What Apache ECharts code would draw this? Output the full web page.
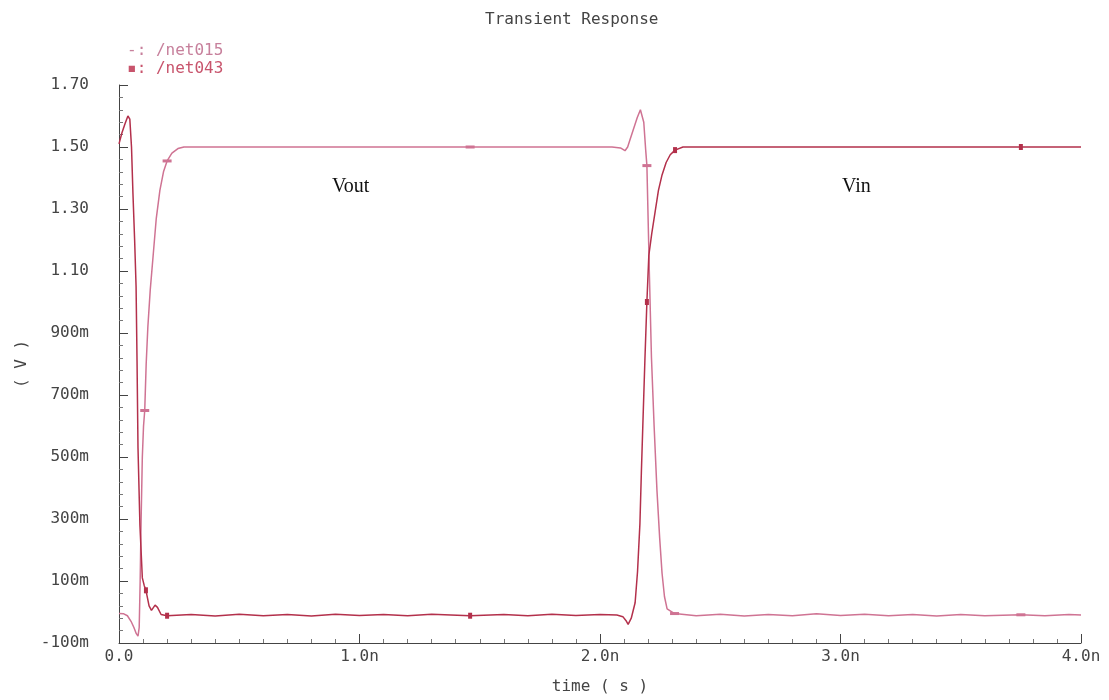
<!DOCTYPE html>
<html>
<head>
<meta charset="utf-8">
<title>Transient Response</title>
<script src="https://cdn.jsdelivr.net/npm/echarts@6/dist/echarts.min.js"></script>
<style>
    html, body { margin: 0; padding: 0; background: #fff; }
    #chart { width: 1109px; height: 700px; }
</style>
</head>
<body>
<div id="chart"></div>
<script>
// time in ns, voltage in V
const net015T = [0, 0.02, 0.035, 0.05, 0.062, 0.072, 0.079, 0.084, 0.088, 0.092,
    0.097, 0.102, 0.107, 0.113, 0.12, 0.13, 0.142, 0.155, 0.17, 0.185,
    0.2, 0.22, 0.245, 0.27, 0.5, 0.8, 1.1, 1.46, 1.8, 2.05,
    2.085, 2.104, 2.115, 2.125, 2.14, 2.155, 2.168, 2.175, 2.182, 2.19,
    2.195, 2.205, 2.214, 2.225, 2.237, 2.248, 2.258, 2.268, 2.279, 2.31,
    2.4, 2.5, 2.6, 2.7, 2.8, 2.9, 3.0, 3.1, 3.2, 3.3,
    3.4, 3.5, 3.6, 3.75, 3.85, 3.95, 4.0];
const net015V = [-0.005, -0.006, -0.012, -0.03, -0.05, -0.07, -0.078, -0.05, 0.1, 0.3,
    0.5, 0.6, 0.65, 0.8, 0.92, 1.04, 1.15, 1.27, 1.36, 1.42,
    1.455, 1.48, 1.495, 1.5, 1.5, 1.5, 1.5, 1.5, 1.5, 1.5,
    1.497, 1.488, 1.5, 1.524, 1.56, 1.595, 1.62, 1.626, 1.58, 1.49,
    1.44, 1.1, 0.82, 0.6, 0.39, 0.24, 0.125, 0.05, 0.01, -0.005,
    -0.012, -0.007, -0.013, -0.008, -0.012, -0.006, -0.011, -0.007, -0.012, -0.008,
    -0.013, -0.008, -0.012, -0.009, -0.012, -0.008, -0.01];
const net015Marks = [0.107, 0.2, 1.46, 2.195, 2.31, 3.75];

const net043T = [0, 0.012, 0.025, 0.037, 0.045, 0.052, 0.058, 0.065, 0.071, 0.075,
    0.079, 0.087, 0.097, 0.105, 0.112, 0.125, 0.135, 0.15, 0.16, 0.175,
    0.2, 0.3, 0.4, 0.5, 0.6, 0.7, 0.8, 0.9, 1.0, 1.1,
    1.2, 1.3, 1.46, 1.6, 1.7, 1.8, 1.9, 2.0, 2.07, 2.095,
    2.11, 2.117, 2.13, 2.146, 2.156, 2.166, 2.172, 2.178, 2.187, 2.195,
    2.203, 2.215, 2.229, 2.243, 2.258, 2.275, 2.292, 2.312, 2.345, 2.6,
    3.0, 3.4, 3.75, 4.0];
const net043V = [1.51, 1.545, 1.575, 1.6, 1.59, 1.5, 1.35, 1.2, 1.05, 0.81,
    0.53, 0.28, 0.11, 0.085, 0.07, 0.02, 0.005, 0.022, 0.015, -0.008,
    -0.012, -0.008, -0.013, -0.007, -0.012, -0.008, -0.013, -0.007, -0.011, -0.008,
    -0.012, -0.007, -0.012, -0.008, -0.012, -0.007, -0.011, -0.008, -0.01, -0.015,
    -0.03, -0.04, -0.02, 0.03, 0.13, 0.285, 0.45, 0.6, 0.82, 1.0,
    1.15, 1.22, 1.29, 1.36, 1.41, 1.45, 1.475, 1.49, 1.5, 1.5,
    1.5, 1.5, 1.5, 1.5];
const net043Marks = [0.112, 0.2, 1.46, 2.195, 2.312, 3.75];

const FONT = "DejaVu Sans Mono";
const C015 = "#cf7393";
const C043 = "#b3304b";

// build [t, v] points, putting a marker on the listed times
const buildData = (ts, vs, marks, sym, size) =>
    ts.map((t, i) => marks.includes(t)
        ? { value: [t, vs[i]], symbol: sym, symbolSize: size }
        : { value: [t, vs[i]], symbol: "none" });

const fmtVolt = (v) => {
    const r = Math.round(v * 1000);
    if (Math.abs(r) >= 1000) return (r / 1000).toFixed(2);
    return r + "m";
};

const chart = echarts.init(document.getElementById("chart"));
chart.setOption({
    animation: false,
    backgroundColor: "#fff",
    title: {
        text: "Transient Response",
        left: 480,
        top: 7,
        textStyle: { fontFamily: FONT, fontSize: 16, fontWeight: "normal", color: "#444" }
    },
    legend: {
        orient: "vertical",
        left: 116,
        top: 38,
        itemGap: 2,
        itemWidth: 1,
        itemHeight: 1,
        icon: "none",
        selectedMode: false,
        formatter: (name) => (name === "/net015" ? "-" : "\u25AA") + ": " + name,
        textStyle: { fontFamily: FONT, fontSize: 16 },
        data: [
            { name: "/net015", textStyle: { color: "#c7809c" } },
            { name: "/net043", textStyle: { color: "#c8546c" } }
        ]
    },
    grid: { left: 119, right: 28, top: 85, bottom: 52 },
    xAxis: {
        type: "value",
        min: 0,
        max: 4,
        interval: 1,
        name: "time ( s )",
        nameLocation: "middle",
        nameGap: 36,
        nameTextStyle: { fontFamily: FONT, fontSize: 16, color: "#444" },
        axisLine: { onZero: false, lineStyle: { color: "#444", width: 1 } },
        axisTick: { inside: true, length: 9, lineStyle: { color: "#444" } },
        minorTick: { show: true, splitNumber: 10, length: 4, lineStyle: { color: "#777" } },
        axisLabel: {
            margin: 6,
            fontFamily: FONT,
            fontSize: 16,
            color: "#444",
            formatter: (v) => (v === 0 ? "0.0" : v.toFixed(1) + "n")
        },
        splitLine: { show: false }
    },
    yAxis: {
        type: "value",
        min: -0.1,
        max: 1.7,
        interval: 0.2,
        name: "( V )",
        nameLocation: "middle",
        nameRotate: 90,
        nameGap: 84,
        nameTextStyle: { fontFamily: FONT, fontSize: 16, color: "#444" },
        axisLine: { show: true, onZero: false, lineStyle: { color: "#444", width: 1 } },
        axisTick: { show: true, inside: true, length: 9, lineStyle: { color: "#444" } },
        minorTick: { show: true, splitNumber: 5, length: 4, lineStyle: { color: "#777" } },
        axisLabel: {
            margin: 30,
            fontFamily: FONT,
            fontSize: 16,
            color: "#444",
            formatter: fmtVolt
        },
        splitLine: { show: false }
    },
    graphic: [
        { type: "text", left: 332, top: 177,
          style: { text: "Vout", font: "20px 'Liberation Serif'", fill: "#111" } },
        { type: "text", left: 842, top: 177,
          style: { text: "Vin", font: "20px 'Liberation Serif'", fill: "#111" } }
    ],
    series: [
        {
            name: "/net015",
            type: "line",
            showSymbol: true,
            showAllSymbol: true,
            color: C015,
            lineStyle: { width: 1.5, color: C015 },
            itemStyle: { color: C015 },
            emphasis: { disabled: true },
            data: buildData(net015T, net015V, net015Marks, "rect", [9, 3])
        },
        {
            name: "/net043",
            type: "line",
            showSymbol: true,
            showAllSymbol: true,
            color: C043,
            lineStyle: { width: 1.5, color: C043 },
            itemStyle: { color: C043 },
            emphasis: { disabled: true },
            data: buildData(net043T, net043V, net043Marks, "rect", [4, 6])
        }
    ]
});
</script>
</body>
</html>
